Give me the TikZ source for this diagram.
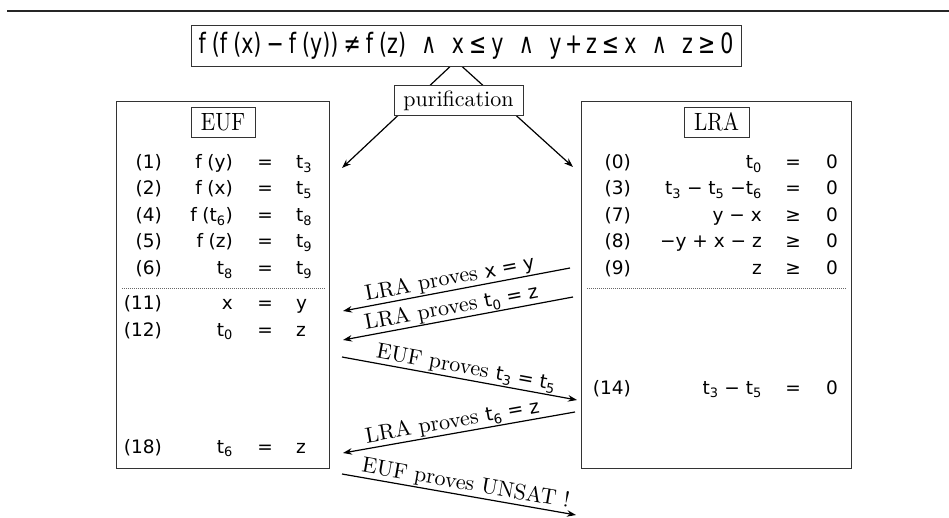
\documentclass[tikz,border=0pt]{standalone}
\usepackage{fontspec}
\usepackage{graphicx}
\setmainfont{lmroman10-regular}[Extension=.otf]
\newfontfamily\mf{DejaVu Sans}
\usetikzlibrary{arrows.meta,backgrounds}
\newcommand\fg{\hspace{0.3em}}
\newcommand\ffg{\hspace{0.3em}}
\newcommand\sbs[1]{\textsubscript{#1}}
\newcommand\mm[1]{{\mf\fontsize{19}{22}\selectfont #1}}
\newcommand\andsym{\hspace{0.75em}∧\hspace{0.75em}}
\newcommand\rsp{\hspace{0.25em}}
\tikzset{
  box/.style={draw=black!80, line width=0.9pt, inner sep=0pt, fill=white},
  titlebox/.style={box, minimum height=30pt, font=\fontsize{25}{28}\selectfont},
  rowf/.style={font=\mf\fontsize{18.5}{22}\selectfont, inner sep=0pt},
  cnum/.style={rowf, anchor=base east},
  clhs/.style={rowf, anchor=base east},
  crel/.style={rowf, anchor=base},
  crhs/.style={rowf, anchor=base west},
  arr/.style={line width=1.2pt, -{Stealth[length=9pt,width=6.5pt]}},
  arrback/.style={line width=1.2pt, {Stealth[length=9pt,width=6.5pt]}-},
  dotln/.style={draw=black!60, line width=0.8pt, dash pattern=on 0.8pt off 1.2pt},
  proof/.style={sloped, above, inner sep=0.8pt, font=\fontsize{22}{24}\selectfont},
}
\begin{document}
\begin{tikzpicture}[x=1pt,y=-1pt]
\useasboundingbox (0,0) rectangle (949,518);
% top rule
\coordinate (tl) at (7,11);
\coordinate (tr) at (949,11);
\draw[line width=1.2pt, black!85] (tl) -- (tr);
% formula
\node[box, minimum width=550pt, minimum height=41pt, font=\mf\fontsize{28}{30}\selectfont] (formula) at (466,45.5)
  {\resizebox{535pt}{\height}{f\ffg(f\ffg(x)\rsp−\rsp f\ffg(y))\rsp≠\rsp f\ffg(z)\andsym x\rsp≤\rsp y\andsym y\hspace{0.18em}+\hspace{0.18em}z\rsp≤\rsp x\andsym z\rsp≥\rsp 0}};
\node[box, minimum width=129pt, minimum height=30pt, font=\fontsize{22}{24}\selectfont] (purif) at (458.5,100.5) {purification};
\coordinate (src) at (456,61);
\coordinate (tipL) at (342,168);
\coordinate (tipR) at (573,167);
\begin{scope}[on background layer]
\draw[arr] (src) -- (tipL);
\draw[arr] (src) -- (tipR);
\end{scope}
% theory boxes
\node[box, fill=none, minimum width=213pt, minimum height=367pt] (eufbox) at (222.5,284.5) {};
\node[box, fill=none, minimum width=270pt, minimum height=367pt] (lrabox) at (716,284.5) {};
\node[titlebox, minimum width=64pt] (euft) at (223,122) {\scalebox{0.85}[1]{EUF}};
\node[titlebox, minimum width=65pt] (lrat) at (716.5,122) {\scalebox{0.85}[1]{LRA}};
% EUF rows
\foreach \i/\n/\l/\r/\y in {
  1/{(1)}/{f\fg(y)}/{t\sbs{3}}/168.5,
  2/{(2)}/{f\fg(x)}/{t\sbs{5}}/195,
  3/{(4)}/{f\fg(t\sbs{6})}/{t\sbs{8}}/221.5,
  4/{(5)}/{f\fg(z)}/{t\sbs{9}}/248,
  5/{(6)}/{t\sbs{8}}/{t\sbs{9}}/274.5,
  6/{(11)}/{x}/{y}/309,
  7/{(12)}/{t\sbs{0}}/{z}/336,
  8/{(18)}/{t\sbs{6}}/{z}/453}{
  \node[cnum] (en\i) at (162,\y) {\n};
  \node[clhs] (el\i) at (233,\y) {\l};
  \node[crel] (eq\i) at (265,\y) {=};
  \node[crhs] (er\i) at (296,\y) {\r};
}
% LRA rows
\foreach \i/\n/\l/\s/\y in {
  1/{(0)}/{t\sbs{0}}/{=}/168.5,
  2/{(3)}/{t\sbs{3} − t\sbs{5} −t\sbs{6}}/{=}/195,
  3/{(7)}/{y − x}/{≥}/221.5,
  4/{(8)}/{−y + x − z}/{≥}/248,
  5/{(9)}/{z}/{≥}/274.5,
  6/{(14)}/{t\sbs{3} − t\sbs{5}}/{=}/394}{
  \node[cnum] (ln\i) at (631,\y) {\n};
  \node[clhs] (ll\i) at (762,\y) {\l};
  \node[crel] (lq\i) at (793,\y) {\s};
  \node[crhs] (lr\i) at (826,\y) {0};
}
% dotted separators
\coordinate (ed1) at (122,288);
\coordinate (ed2) at (325,288);
\coordinate (ld1) at (587,288);
\coordinate (ld2) at (846,288);
\draw[dotln] (ed1) -- (ed2);
\draw[dotln] (ld1) -- (ld2);
% exchange arrows
\coordinate (a1s) at (570,268);  \coordinate (a1t) at (343,311);
\coordinate (a2s) at (573,297);  \coordinate (a2t) at (343,340);
\coordinate (a3s) at (342,357);  \coordinate (a3t) at (577,400);
\coordinate (a4s) at (575,412);  \coordinate (a4t) at (343,453);
\coordinate (a5s) at (342,474);  \coordinate (a5t) at (576,515);
\draw[arrback] (a1t) -- node[proof, pos=0.48] (p1) {LRA proves \mm{x = y}} (a1s);
\draw[arrback] (a2t) -- node[proof, pos=0.48] (p2) {LRA proves \mm{t\sbs{0} = z}} (a2s);
\draw[arr] (a3s) -- node[proof, pos=0.52] (p3) {EUF proves \mm{t\sbs{3} = t\sbs{5}}} (a3t);
\draw[arrback] (a4t) -- node[proof, pos=0.48] (p4) {LRA proves \mm{t\sbs{6} = z}} (a4s);
\draw[arr] (a5s) -- node[proof, pos=0.52] (p5) {EUF proves UNSAT !} (a5t);
\end{tikzpicture}
\end{document}
